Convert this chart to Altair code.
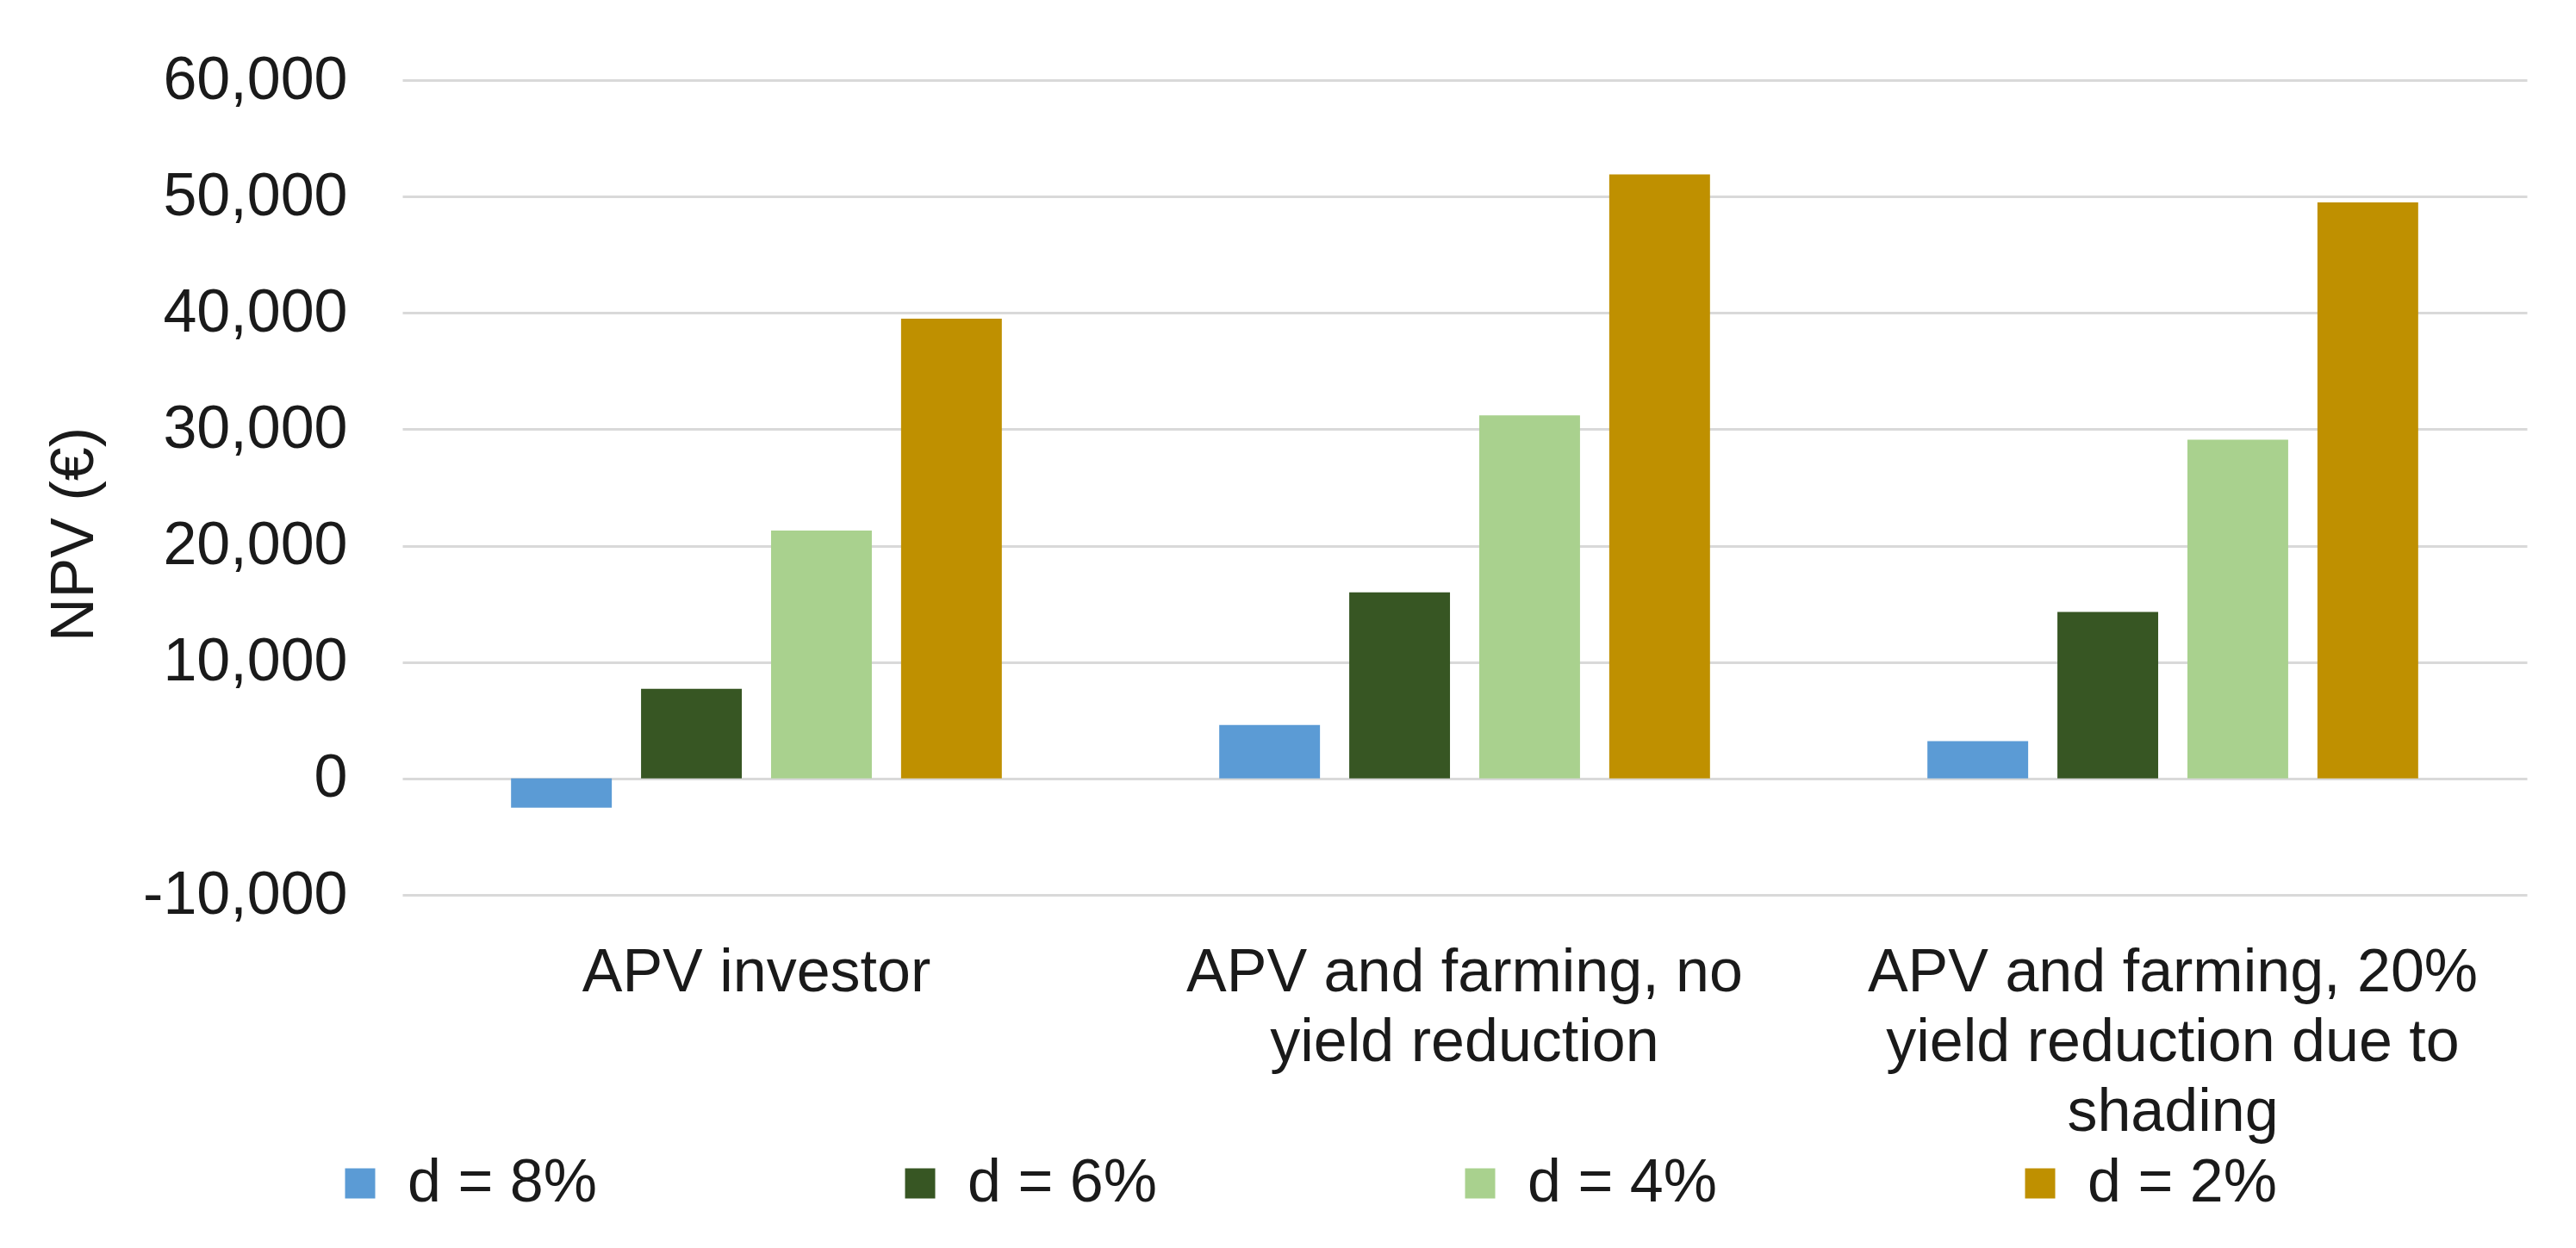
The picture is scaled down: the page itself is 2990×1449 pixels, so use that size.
import altair as alt
import pandas as pd

categories = ["APV investor",
              "APV and farming, no|yield reduction",
              "APV and farming, 20%|yield reduction due to|shading"]
series = ["d = 8%", "d = 6%", "d = 4%", "d = 2%"]
colors = ["#5B9BD5", "#375623", "#A9D18E", "#BF9000"]
npv_d8 = [-2500, 4600, 3200]
npv_d6 = [7700, 16000, 14300]
npv_d4 = [21300, 31200, 29100]
npv_d2 = [39500, 51900, 49500]
y_ticks = [-10000, 0, 10000, 20000, 30000, 40000, 50000, 60000]

rows = []
for s, vals in zip(series, [npv_d8, npv_d6, npv_d4, npv_d2]):
    for c, v in zip(categories, vals):
        rows.append({"category": c, "series": s, "npv": v})
df = pd.DataFrame(rows)

FONT = "Liberation Sans"
FS = 70
TXT = "#1a1a1a"

chart = alt.Chart(df).mark_bar().encode(
    x=alt.X("category:N", sort=categories,
            scale=alt.Scale(paddingInner=0.307, paddingOuter=0.1535),
            axis=alt.Axis(title=None, labelAngle=0, ticks=False, domain=False, grid=False,
                          labelExpr="split(datum.label, '|')",
                          labelFont=FONT, labelFontSize=FS, labelColor=TXT,
                          labelBaseline="alphabetic", labelPadding=111,
                          labelLineHeight=81, labelLimit=1000)),
    xOffset=alt.XOffset("series:N", sort=series,
                        scale=alt.Scale(paddingInner=0.225, paddingOuter=0)),
    y=alt.Y("npv:Q",
            scale=alt.Scale(domain=[-10000, 60000], nice=False),
            axis=alt.Axis(title="NPV (€)", values=y_ticks,
                          labelExpr="datum.value < 0 ? '-' + format(-datum.value, ',') : format(datum.value, ',')",
                          ticks=False, domain=False,
                          gridColor="#d9d9d9", gridWidth=3,
                          labelFont=FONT, labelFontSize=FS, labelColor=TXT,
                          labelPadding=64, labelLimit=1000,
                          titleFont=FONT, titleFontSize=FS, titleColor=TXT,
                          titleFontWeight="normal",
                          titleX=-381, titleY=527, titleAngle=270,
                          titleAlign="center", titleBaseline="middle")),
    color=alt.Color("series:N", sort=series,
                    scale=alt.Scale(domain=series, range=colors),
                    legend=alt.Legend(title=None, orient="none", direction="horizontal",
                                      columns=4, legendX=-84, legendY=1246,
                                      symbolType="square", symbolSize=1225,
                                      symbolStrokeWidth=0, labelOffset=20,
                                      columnPadding=340, padding=0,
                                      labelFont=FONT, labelFontSize=FS,
                                      labelColor=TXT, labelLimit=1000)),
).properties(
    width=2466, height=946,
    autosize=alt.AutoSizeParams(type="none"),
    padding={"left": 459, "top": 85, "right": 40, "bottom": 400},
    background="white",
).configure_view(stroke=None)

chart.save("out.html", embed_options={"renderer": "svg", "actions": False})
